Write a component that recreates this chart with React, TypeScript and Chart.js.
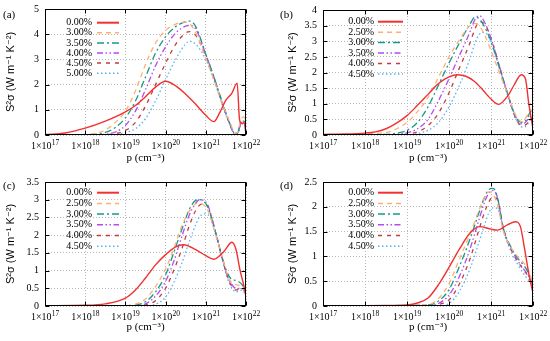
import React, { useEffect, useRef } from 'react';
import { Chart, registerables } from 'chart.js';
Chart.register(...registerables);

// ---------- tick labels & legends ----------
const xTickValues = [1e17, 1e18, 1e19, 1e20, 1e21, 1e22];
const xTickBase = '1×10';
const xTickExps = ['17', '18', '19', '20', '21', '22'];
const legendA = ['0.00%', '3.00%', '3.50%', '4.00%', '4.50%', '5.00%'];
const legendBCD = ['0.00%', '2.50%', '3.00%', '3.50%', '4.00%', '4.50%'];
const yTitle = 'S²σ (W m⁻¹ K⁻²)';
const xTitle = 'p (cm⁻³)';

// ---------- panel (a): log10(p) and S²σ ----------
const aRedL = [17, 17.5, 18, 18.5, 19, 19.25, 19.5, 19.75, 20, 20.25, 20.5, 20.75, 21, 21.2, 21.35, 21.5, 21.65, 21.78, 21.84, 21.9, 21.95, 22];
const aRedV = [0.02, 0.08, 0.27, 0.55, 0.92, 1.17, 1.52, 1.9, 2.13, 1.95, 1.62, 1.22, 0.78, 0.53, 0.9, 1.38, 1.66, 2.06, 0.6, 0.45, 0.5, 0.05];
const aDopL = [17, 18, 18.5, 18.75, 19, 19.25, 19.5, 19.75, 20, 20.25, 20.5, 20.6, 20.75, 21, 21.2, 21.4, 21.6, 21.73, 21.8, 21.87, 21.94, 22];
const aOrange = [0, 0.02, 0.2, 0.5, 0.95, 1.75, 2.8, 3.65, 4.15, 4.4, 4.48, 4.42, 4.05, 3.05, 2.2, 1.3, 0.5, 0.08, 0.12, 0.6, 0.72, 0.6];
const aTeal = [0, 0.01, 0.1, 0.3, 0.68, 1.35, 2.3, 3.25, 3.9, 4.3, 4.5, 4.52, 4.3, 3.2, 2.3, 1.35, 0.45, 0.05, 0.1, 0.5, 0.55, 0.5];
const aPurple = [0, 0, 0.03, 0.12, 0.38, 0.95, 1.8, 2.75, 3.5, 4.05, 4.32, 4.35, 4.2, 3.2, 2.3, 1.3, 0.42, 0.03, 0.1, 0.5, 0.5, 0.4];
const aDarkRed = [0, 0, 0.01, 0.06, 0.18, 0.5, 1.15, 2.0, 2.85, 3.6, 4.05, 4.1, 3.95, 3.15, 2.3, 1.3, 0.42, 0.03, 0.1, 0.45, 0.5, 0.4];
const aBlue = [0, 0, 0, 0.03, 0.1, 0.25, 0.65, 1.35, 2.2, 3.0, 3.62, 3.72, 3.6, 3.0, 2.2, 1.25, 0.4, 0.0, 0.05, 0.4, 0.45, 0.3];

// ---------- panel (b) ----------
const bRedL = [17, 17.5, 18, 18.25, 18.5, 18.75, 19, 19.25, 19.5, 19.75, 20, 20.2, 20.4, 20.6, 20.8, 21, 21.18, 21.4, 21.55, 21.72, 21.82, 21.9, 22];
const bRedV = [0.02, 0.03, 0.06, 0.1, 0.2, 0.38, 0.62, 0.95, 1.3, 1.65, 1.86, 1.93, 1.88, 1.72, 1.45, 1.15, 0.98, 1.25, 1.6, 1.93, 1.8, 1.0, 0.2];
const bDopL = [17, 18.5, 18.75, 19, 19.25, 19.5, 19.75, 20, 20.25, 20.5, 20.62, 20.72, 20.85, 21, 21.2, 21.4, 21.6, 21.75, 21.85, 21.95, 22];
const bOrange = [0, 0.08, 0.2, 0.4, 0.75, 1.2, 1.85, 2.5, 3.05, 3.5, 3.57, 3.5, 3.2, 2.7, 2.0, 1.3, 0.6, 0.42, 0.6, 0.8, 0.7];
const bTeal = [0, 0.02, 0.06, 0.15, 0.4, 0.9, 1.6, 2.3, 2.95, 3.55, 3.77, 3.72, 3.45, 3.0, 2.15, 1.3, 0.55, 0.4, 0.5, 0.75, 0.6];
const bPurple = [0, 0, 0.02, 0.07, 0.2, 0.5, 1.1, 1.8, 2.55, 3.3, 3.7, 3.82, 3.6, 3.1, 2.2, 1.3, 0.55, 0.35, 0.45, 0.6, 0.5];
const bDarkRed = [0, 0, 0, 0.03, 0.1, 0.3, 0.7, 1.35, 2.15, 2.95, 3.4, 3.62, 3.55, 3.1, 2.2, 1.3, 0.5, 0.3, 0.35, 0.55, 0.5];
const bBlue = [0, 0, 0, 0, 0.04, 0.15, 0.4, 0.9, 1.6, 2.45, 2.95, 3.22, 3.28, 2.95, 2.15, 1.25, 0.5, 0.25, 0.3, 0.5, 0.45];

// ---------- panel (c) ----------
const cRedL = [17, 18, 18.5, 19, 19.25, 19.5, 19.75, 20, 20.25, 20.45, 20.75, 21, 21.2, 21.45, 21.65, 21.75, 21.85, 21.95, 22];
const cRedV = [0.01, 0.02, 0.06, 0.22, 0.45, 0.79, 1.16, 1.45, 1.67, 1.73, 1.59, 1.42, 1.32, 1.54, 1.8, 1.6, 1.02, 0.55, 0.26];
const cDopL = [17, 19, 19.25, 19.5, 19.75, 20, 20.2, 20.4, 20.6, 20.75, 20.85, 20.95, 21.05, 21.25, 21.4, 21.55, 21.65, 21.75, 21.9, 22];
const cOrange = [0, 0.01, 0.05, 0.2, 0.55, 1.05, 1.6, 2.25, 2.7, 2.88, 2.9, 2.85, 2.7, 2.0, 1.4, 0.85, 0.65, 0.6, 0.55, 0.35];
const cTeal = [0, 0, 0.03, 0.12, 0.4, 0.88, 1.5, 2.15, 2.75, 2.98, 3.0, 2.95, 2.8, 2.05, 1.4, 0.9, 0.75, 0.72, 0.6, 0.35];
const cPurple = [0, 0, 0.01, 0.06, 0.28, 0.7, 1.25, 1.95, 2.6, 2.9, 3.0, 2.98, 2.85, 2.05, 1.38, 0.8, 0.6, 0.5, 0.5, 0.35];
const cDarkRed = [0, 0, 0, 0.03, 0.15, 0.5, 1.0, 1.6, 2.3, 2.7, 2.85, 2.88, 2.8, 2.05, 1.38, 0.8, 0.55, 0.45, 0.5, 0.35];
const cBlue = [0, 0, 0, 0, 0.05, 0.25, 0.65, 1.2, 1.85, 2.3, 2.52, 2.6, 2.58, 2.0, 1.35, 0.75, 0.5, 0.4, 0.45, 0.3];

// ---------- panel (d) ----------
const dRedL = [17, 18.5, 19, 19.25, 19.5, 19.75, 20, 20.25, 20.5, 20.72, 21, 21.15, 21.4, 21.58, 21.7, 21.8, 21.9, 22];
const dRedV = [0, 0.01, 0.02, 0.06, 0.16, 0.43, 0.78, 1.15, 1.47, 1.6, 1.55, 1.53, 1.64, 1.7, 1.6, 1.15, 0.65, 0.26];
const dDopL = [17, 19.5, 19.75, 20, 20.25, 20.5, 20.7, 20.85, 20.95, 21.05, 21.15, 21.3, 21.5, 21.65, 21.8, 21.9, 22];
const dOrange = [0, 0.03, 0.15, 0.45, 0.95, 1.45, 1.9, 2.2, 2.3, 2.25, 2.05, 1.5, 1.15, 0.98, 0.85, 0.7, 0.45];
const dTeal = [0, 0.02, 0.1, 0.33, 0.8, 1.35, 1.85, 2.2, 2.35, 2.37, 2.2, 1.55, 1.15, 0.95, 0.8, 0.65, 0.45];
const dPurple = [0, 0, 0.05, 0.22, 0.6, 1.15, 1.7, 2.1, 2.28, 2.33, 2.2, 1.52, 1.12, 0.9, 0.72, 0.6, 0.42];
const dDarkRed = [0, 0, 0.03, 0.12, 0.45, 0.95, 1.5, 1.9, 2.1, 2.2, 2.15, 1.55, 1.1, 0.88, 0.7, 0.58, 0.4];
const dBlue = [0, 0, 0, 0.05, 0.3, 0.75, 1.25, 1.65, 1.88, 1.98, 1.97, 1.5, 1.05, 0.82, 0.62, 0.52, 0.42];

// ---------- styles ----------
const colors = ['#f23030', '#ffb070', '#17998a', '#b24cf2', '#c43c3c', '#55b2f5'];
const dashes: number[][] = [[], [5, 4], [7, 3, 2, 3], [6, 2.5, 1.5, 2.5, 1.5, 2.5], [4, 5], [1.5, 2.5]];
const SERIF = '"Liberation Serif", "DejaVu Serif", serif';
const SANS = '"Liberation Sans", "DejaVu Sans", sans-serif';

type Panel = {
  label: string; left: number; top: number; width: number; height: number;
  pad: { left: number; top: number; right: number; bottom: number };
  yWidth: number; yMax: number; yTitlePad: number; xTitlePad: number;
  legend: string[]; legX: number; legLine: [number, number]; legY0: number; legStep: number;
  labelX: number; labelY: number;
  series: { l: number[]; v: number[] }[];
};

const panels: Panel[] = [
  {
    label: '(a)', left: 0, top: 0, width: 275, height: 170,
    pad: { left: 0, top: 9, right: 29, bottom: 5 }, yWidth: 45, yMax: 5, yTitlePad: 4, xTitlePad: 0.5,
    legend: legendA, legX: 92, legLine: [97, 119], legY0: 22.7, legStep: 10.1, labelX: 3, labelY: 15,
    series: [
      { l: aRedL, v: aRedV }, { l: aDopL, v: aOrange }, { l: aDopL, v: aTeal },
      { l: aDopL, v: aPurple }, { l: aDopL, v: aDarkRed }, { l: aDopL, v: aBlue },
    ],
  },
  {
    label: '(b)', left: 275, top: 0, width: 275, height: 170,
    pad: { left: 0, top: 10, right: 17, bottom: 5 }, yWidth: 48, yMax: 4, yTitlePad: 11, xTitlePad: 0.5,
    legend: legendBCD, legX: 99, legLine: [103, 128], legY0: 21.7, legStep: 10.45, labelX: 5, labelY: 15,
    series: [
      { l: bRedL, v: bRedV }, { l: bDopL, v: bOrange }, { l: bDopL, v: bTeal },
      { l: bDopL, v: bPurple }, { l: bDopL, v: bDarkRed }, { l: bDopL, v: bBlue },
    ],
  },
  {
    label: '(c)', left: 0, top: 170, width: 275, height: 171,
    pad: { left: 0, top: 12, right: 29, bottom: 5 }, yWidth: 45, yMax: 3.5, yTitlePad: 4, xTitlePad: 2.5,
    legend: legendBCD, legX: 92, legLine: [97, 119], legY0: 22.7, legStep: 10.7, labelX: 3, labelY: 16,
    series: [
      { l: cRedL, v: cRedV }, { l: cDopL, v: cOrange }, { l: cDopL, v: cTeal },
      { l: cDopL, v: cPurple }, { l: cDopL, v: cDarkRed }, { l: cDopL, v: cBlue },
    ],
  },
  {
    label: '(d)', left: 275, top: 170, width: 275, height: 171,
    pad: { left: 0, top: 12, right: 17, bottom: 5 }, yWidth: 48, yMax: 2.5, yTitlePad: 11, xTitlePad: 2.5,
    legend: legendBCD, legX: 99, legLine: [103, 128], legY0: 22.7, legStep: 10.7, labelX: 5, labelY: 16,
    series: [
      { l: dRedL, v: dRedV }, { l: dDopL, v: dOrange }, { l: dDopL, v: dTeal },
      { l: dDopL, v: dPurple }, { l: dDopL, v: dDarkRed }, { l: dDopL, v: dBlue },
    ],
  },
];

const framePlugin = {
  id: 'frame',
  afterDraw(chart: any, _args: any, opts: any) {
    const { ctx, chartArea: a, scales } = chart;
    const L = Math.round(a.left) + 0.5, R = Math.round(a.right) - 0.5;
    const T = Math.round(a.top) + 0.5, B = Math.round(a.bottom) - 0.5;
    ctx.save();
    ctx.setLineDash([]);
    ctx.strokeStyle = '#000';
    ctx.lineWidth = 1;
    ctx.beginPath();
    for (const v of xTickValues) {
      const x = Math.round(scales.x.getPixelForValue(v)) + 0.5;
      ctx.moveTo(x, B); ctx.lineTo(x, B - 4);
      ctx.moveTo(x, T); ctx.lineTo(x, T + 4);
    }
    for (const t of scales.y.ticks) {
      const y = Math.round(scales.y.getPixelForValue(t.value)) + 0.5;
      ctx.moveTo(L, y); ctx.lineTo(L + 4, y);
      ctx.moveTo(R, y); ctx.lineTo(R - 4, y);
    }
    ctx.stroke();
    ctx.strokeRect(L, T, R - L, B - T);

    // x tick labels: 1×10 with raised exponent
    ctx.fillStyle = '#000';
    ctx.textBaseline = 'alphabetic';
    ctx.textAlign = 'left';
    const baseFont = `10px ${SERIF}`;
    const expFont = `7.5px ${SERIF}`;
    const yBase = a.bottom + 13.5;
    xTickValues.forEach((v, i) => {
      const px = scales.x.getPixelForValue(v);
      ctx.font = baseFont;
      const wb = ctx.measureText(xTickBase).width;
      ctx.font = expFont;
      const we = ctx.measureText(xTickExps[i]).width;
      const x0 = px - (wb + we) / 2;
      ctx.font = baseFont;
      ctx.fillText(xTickBase, x0, yBase);
      ctx.font = expFont;
      ctx.fillText(xTickExps[i], x0 + wb + 0.3, yBase - 4);
    });

    // legend
    const p: Panel = opts.panel;
    ctx.font = `10px ${SERIF}`;
    ctx.textAlign = 'right';
    ctx.textBaseline = 'middle';
    chart.data.datasets.forEach((ds: any, i: number) => {
      const y = p.legY0 + i * p.legStep;
      ctx.fillStyle = '#000';
      ctx.fillText(ds.label, p.legX, y);
      ctx.beginPath();
      ctx.strokeStyle = ds.borderColor;
      ctx.lineWidth = i === 0 ? 2 : 1.5;
      ctx.setLineDash(ds.borderDash || []);
      ctx.moveTo(p.legLine[0], y);
      ctx.lineTo(p.legLine[1], y);
      ctx.stroke();
    });
    ctx.setLineDash([]);
    ctx.fillStyle = '#000';
    ctx.font = `11px ${SERIF}`;
    ctx.textAlign = 'left';
    ctx.fillText(p.label, p.labelX, p.labelY);
    ctx.restore();
  },
};

function PanelChart({ p }: { p: Panel }) {
  const ref = useRef<HTMLCanvasElement>(null);
  useEffect(() => {
    if (!ref.current) return;
    const datasets = p.series.map((s, i) => ({
      label: p.legend[i],
      data: s.l.map((l, j) => ({ x: Math.pow(10, l), y: s.v[j] })),
      borderColor: colors[i],
      borderDash: dashes[i],
      borderWidth: i === 0 ? 1.4 : 1.3,
      pointRadius: 0,
      fill: false,
      cubicInterpolationMode: 'monotone' as const,
    }));
    const gridOpts = { color: '#b8b8b8', lineWidth: 1, drawTicks: false };
    const chart = new Chart(ref.current, {
      type: 'line',
      data: { datasets },
      plugins: [framePlugin],
      options: {
        animation: false,
        responsive: false,
        events: [],
        layout: { padding: p.pad, autoPadding: false } as any,
        plugins: {
          legend: { display: false },
          tooltip: { enabled: false },
          frame: { panel: p },
        } as any,
        scales: {
          x: {
            type: 'logarithmic',
            min: 1e17,
            max: 1e22,
            afterBuildTicks: (s: any) => {
              s.ticks = xTickValues.map((v) => ({ value: v, major: true }));
            },
            afterFit: (s: any) => {
              s.height = 30; s.paddingLeft = 0; s.paddingRight = 0;
            },
            ticks: { display: false, autoSkip: false, maxRotation: 0, minRotation: 0 },
            grid: gridOpts,
            border: { display: false, dash: [1, 2] },
            title: {
              display: true, text: xTitle, color: '#000',
              font: { family: SERIF, size: 11 }, padding: { top: 0, bottom: p.xTitlePad },
            },
          } as any,
          y: {
            type: 'linear',
            min: 0,
            max: p.yMax,
            afterFit: (s: any) => {
              s.width = p.yWidth; s.paddingTop = 0; s.paddingBottom = 0;
            },
            ticks: {
              stepSize: 0.5, padding: 6, color: '#000', font: { family: SERIF, size: 10 },
              callback: (v: any) => String(Number(v)),
            },
            grid: gridOpts,
            border: { display: false, dash: [1, 2] },
            title: {
              display: true, text: yTitle, color: '#000',
              font: { family: SANS, size: 11 }, padding: { top: p.yTitlePad, bottom: 0 },
            },
          } as any,
        },
      },
    });
    return () => chart.destroy();
  }, [p]);
  return (
    <div style={{ position: 'absolute', left: p.left, top: p.top, width: p.width, height: p.height }}>
      <canvas ref={ref} width={p.width} height={p.height} style={{ display: 'block' }} />
    </div>
  );
}

export default function App() {
  return (
    <div style={{ position: 'absolute', left: 0, top: 0, width: 550, height: 341, background: '#fff', overflow: 'hidden' }}>
      {panels.map((p) => (
        <PanelChart key={p.label} p={p} />
      ))}
    </div>
  );
}
